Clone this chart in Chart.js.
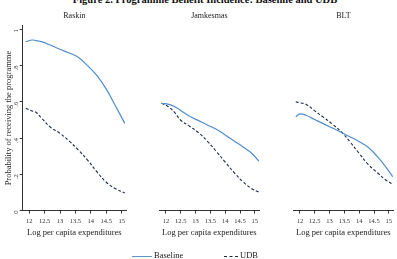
<!DOCTYPE html>
<html>
<head>
<meta charset="utf-8">
<script src="https://cdn.jsdelivr.net/npm/chart.js@4.4.1/dist/chart.umd.min.js"></script>
<style>
  body { margin: 0; background: #fff; width: 397px; height: 259px; overflow: hidden; position: relative; font-family: "Liberation Serif", serif; }
  canvas { position: absolute; left: 0; top: 0; }
  #fig { position: absolute; top: -6px; left: 0; width: 410px; text-align: center; font: bold 10.5px "Liberation Serif", serif; color: #111; white-space: nowrap; }
  .leg { position: absolute; top: 250px; font-size: 8.5px; color: #222; line-height: 10px; white-space: nowrap; }
  .sw { display: inline-block; width: 20px; vertical-align: middle; margin-right: 2px; }
</style>
</head>
<body>
<div id="fig">Figure 2. Programme Benefit Incidence: Baseline and UDB</div>
<canvas id="p1" width="397" height="259"></canvas>
<canvas id="p2" width="397" height="259"></canvas>
<canvas id="p3" width="397" height="259"></canvas>
<div class="leg" style="left:132px"><span class="sw" style="border-top:1.3px solid #5b95cc"></span>Baseline</div>
<div class="leg" style="left:224px"><span class="sw" style="width:14px;border-top:1.2px dashed #1c2b45"></span>UDB</div>
<script>
// tick values and labels
const xTicks = [12, 12.5, 13, 13.5, 14, 14.5, 15];
const xTickLabels = ["12", "12.5", "13", "13.5", "14", "14.5", "15"];
const yTicks = [0, 0.2, 0.4, 0.6, 0.8, 1];
const yTickLabels = ["0", ".2", ".4", ".6", ".8", "1"];

// Raskin
const raskinX = [11.89, 12.1, 12.22, 12.4, 12.7, 13.0, 13.3, 13.6, 13.9, 14.2, 14.5, 14.8, 15.1];
const raskinBase = [0.932, 0.941, 0.938, 0.932, 0.912, 0.89, 0.869, 0.845, 0.798, 0.744, 0.67, 0.577, 0.481];
const raskinUdb = [0.564, 0.549, 0.542, 0.51, 0.458, 0.426, 0.383, 0.333, 0.277, 0.213, 0.156, 0.12, 0.097];

// Jamkesmas
const jamX = [11.85, 12.1, 12.3, 12.5, 12.8, 13.1, 13.4, 13.7, 14.0, 14.3, 14.6, 14.9, 15.14];
const jamBase = [0.592, 0.586, 0.573, 0.552, 0.52, 0.496, 0.472, 0.448, 0.417, 0.384, 0.351, 0.315, 0.272];
const jamUdb = [0.592, 0.571, 0.54, 0.498, 0.465, 0.43, 0.382, 0.326, 0.267, 0.209, 0.158, 0.12, 0.101];

// BLT
const bltX = [11.86, 12.0, 12.2, 12.5, 12.8, 13.1, 13.4, 13.7, 14.0, 14.3, 14.6, 14.9, 15.13];
const bltBase = [0.518, 0.533, 0.526, 0.502, 0.478, 0.455, 0.431, 0.406, 0.38, 0.349, 0.30, 0.24, 0.187];
const bltUdb = [0.60, 0.594, 0.587, 0.55, 0.514, 0.476, 0.434, 0.377, 0.315, 0.255, 0.21, 0.168, 0.146];

const serif = "'Liberation Serif', 'Times New Roman', serif";
const axisColor = "#333";

function pts(xs, ys) {
  return xs.map((x, i) => ({ x: x, y: ys[i] }));
}

function drawPanel(id, title, xs, base, udb, padLeft, padRight, showY) {
  new Chart(document.getElementById(id), {
    type: "line",
    data: {
      datasets: [
        {
          label: "Baseline",
          data: pts(xs, base),
          borderColor: "#4f8dcb",
          borderWidth: 1.2,
          pointRadius: 0,
          tension: 0.4
        },
        {
          label: "UDB",
          data: pts(xs, udb),
          borderColor: "#1c2b45",
          borderWidth: 1.1,
          borderDash: [3, 2],
          pointRadius: 0,
          tension: 0.4
        }
      ]
    },
    options: {
      responsive: false,
      animation: false,
      devicePixelRatio: 1,
      layout: { padding: { left: padLeft, right: padRight, top: 0, bottom: 14 } },
      plugins: {
        legend: { display: false },
        tooltip: { enabled: false },
        title: {
          display: true,
          text: title,
          fullSize: false,
          color: "#222",
          font: { family: serif, size: 8, weight: "normal", lineHeight: 1.2 },
          padding: { top: 11, bottom: 5.1 }
        }
      },
      scales: {
        x: {
          type: "linear",
          min: 11.79,
          max: 15.14,
          afterBuildTicks: (s) => { s.ticks = xTicks.map((v) => ({ value: v })); },
          afterFit: (s) => { s.height = 34.5; },
          border: { color: axisColor, width: 1 },
          grid: { drawOnChartArea: false, tickLength: 3, color: axisColor },
          ticks: {
            autoSkip: false,
            maxRotation: 0,
            padding: 3.5,
            color: "#333",
            font: { family: serif, size: 6.5 },
            callback: (v, i) => xTickLabels[i]
          },
          title: {
            display: true,
            text: "Log per capita expenditures",
            color: "#222",
            font: { family: serif, size: 8.5, lineHeight: 1.2 },
            padding: { top: 0, bottom: 7.5 }
          }
        },
        y: {
          display: showY,
          min: 0,
          max: 1.02,
          afterBuildTicks: (s) => { s.ticks = yTicks.map((v) => ({ value: v })); },
          afterFit: (s) => { s.width = 22.7; },
          border: { color: axisColor, width: 1 },
          grid: { drawOnChartArea: false, tickLength: 3, color: axisColor },
          ticks: {
            minRotation: 90,
            maxRotation: 90,
            padding: 3.5,
            color: "#333",
            font: { family: serif, size: 6.5 },
            callback: (v, i) => yTickLabels[i]
          },
          title: {
            display: true,
            text: "Probability of receiving the programme",
            color: "#222",
            font: { family: serif, size: 8.5, lineHeight: 1.2 },
            padding: { top: 3.2, bottom: 0 }
          }
        }
      }
    }
  });
}

drawPanel("p1", "Raskin", raskinX, raskinBase, raskinUdb, 0, 271, true);
drawPanel("p2", "Jamkesmas", jamX, jamBase, jamUdb, 137, 138, false);
drawPanel("p3", "BLT", bltX, bltBase, bltUdb, 271, 4, false);
</script>
</body>
</html>
